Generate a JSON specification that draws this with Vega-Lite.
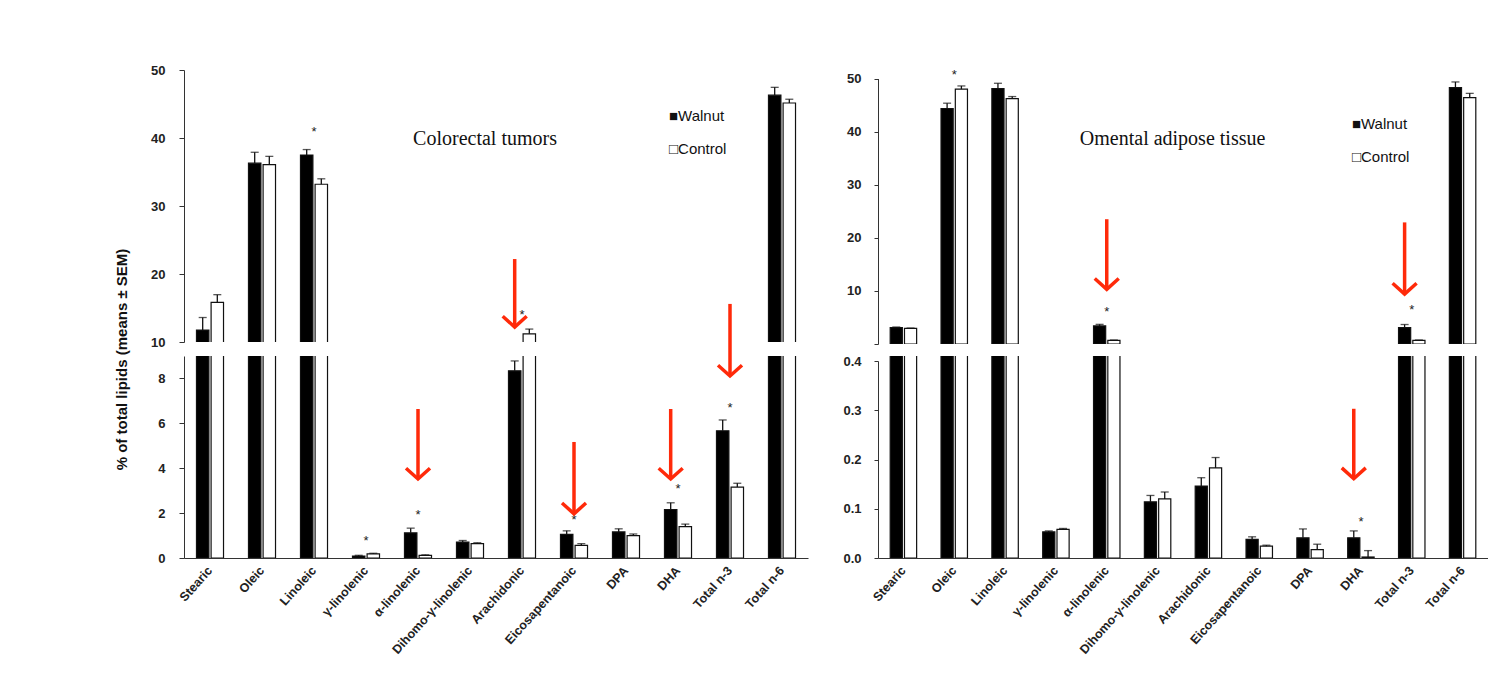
{
  "$schema": "https://vega.github.io/schema/vega-lite/v6.json",
  "background": "white",
  "padding": {"left": 113, "top": 64, "right": 0, "bottom": 0},
  "config": {
    "view": {"stroke": null},
    "font": "Liberation Sans",
    "axis": {"domainColor": "#333333", "tickColor": "#333333", "labelColor": "#222222", "labelFontWeight": "bold", "labelFont": "Liberation Sans", "grid": false}
  },
  "datasets": {
    "L": [
      {"cat": "Stearic", "grp": "Walnut", "value": 11.76, "hi": 13.6},
      {"cat": "Stearic", "grp": "Control", "value": 15.84, "hi": 16.96},
      {"cat": "Oleic", "grp": "Walnut", "value": 36.3, "hi": 37.9},
      {"cat": "Oleic", "grp": "Control", "value": 36.07, "hi": 37.3},
      {"cat": "Linoleic", "grp": "Walnut", "value": 37.5, "hi": 38.3},
      {"cat": "Linoleic", "grp": "Control", "value": 33.2, "hi": 34.0},
      {"cat": "γ-linolenic", "grp": "Walnut", "value": 0.09, "hi": 0.12},
      {"cat": "γ-linolenic", "grp": "Control", "value": 0.18, "hi": 0.21},
      {"cat": "α-linolenic", "grp": "Walnut", "value": 1.12, "hi": 1.33},
      {"cat": "α-linolenic", "grp": "Control", "value": 0.12, "hi": 0.14},
      {"cat": "Dihomo-γ-linolenic", "grp": "Walnut", "value": 0.71, "hi": 0.78},
      {"cat": "Dihomo-γ-linolenic", "grp": "Control", "value": 0.64, "hi": 0.68},
      {"cat": "Arachidonic", "grp": "Walnut", "value": 8.34, "hi": 8.78},
      {"cat": "Arachidonic", "grp": "Control", "value": 11.2, "hi": 11.9},
      {"cat": "Eicosapentanoic", "grp": "Walnut", "value": 1.05, "hi": 1.21},
      {"cat": "Eicosapentanoic", "grp": "Control", "value": 0.56, "hi": 0.64},
      {"cat": "DPA", "grp": "Walnut", "value": 1.16, "hi": 1.30},
      {"cat": "DPA", "grp": "Control", "value": 1.0, "hi": 1.07},
      {"cat": "DHA", "grp": "Walnut", "value": 2.16, "hi": 2.46},
      {"cat": "DHA", "grp": "Control", "value": 1.40, "hi": 1.51},
      {"cat": "Total n-3", "grp": "Walnut", "value": 5.67, "hi": 6.15},
      {"cat": "Total n-3", "grp": "Control", "value": 3.16, "hi": 3.33},
      {"cat": "Total n-6", "grp": "Walnut", "value": 46.3, "hi": 47.45},
      {"cat": "Total n-6", "grp": "Control", "value": 45.15, "hi": 45.7}
    ],
    "R": [
      {"cat": "Stearic", "grp": "Walnut", "value": 3.1, "hi": 3.2},
      {"cat": "Stearic", "grp": "Control", "value": 2.95, "hi": 3.0},
      {"cat": "Oleic", "grp": "Walnut", "value": 44.35, "hi": 45.35},
      {"cat": "Oleic", "grp": "Control", "value": 48.0, "hi": 48.6},
      {"cat": "Linoleic", "grp": "Walnut", "value": 48.1, "hi": 49.1},
      {"cat": "Linoleic", "grp": "Control", "value": 46.2, "hi": 46.6},
      {"cat": "γ-linolenic", "grp": "Walnut", "value": 0.053, "hi": 0.055},
      {"cat": "γ-linolenic", "grp": "Control", "value": 0.058, "hi": 0.06},
      {"cat": "α-linolenic", "grp": "Walnut", "value": 3.4, "hi": 3.7},
      {"cat": "α-linolenic", "grp": "Control", "value": 0.7, "hi": 0.75},
      {"cat": "Dihomo-γ-linolenic", "grp": "Walnut", "value": 0.114, "hi": 0.127},
      {"cat": "Dihomo-γ-linolenic", "grp": "Control", "value": 0.12, "hi": 0.134},
      {"cat": "Arachidonic", "grp": "Walnut", "value": 0.146, "hi": 0.163},
      {"cat": "Arachidonic", "grp": "Control", "value": 0.183, "hi": 0.204},
      {"cat": "Eicosapentanoic", "grp": "Walnut", "value": 0.038, "hi": 0.043},
      {"cat": "Eicosapentanoic", "grp": "Control", "value": 0.024, "hi": 0.026},
      {"cat": "DPA", "grp": "Walnut", "value": 0.041, "hi": 0.059},
      {"cat": "DPA", "grp": "Control", "value": 0.017, "hi": 0.028},
      {"cat": "DHA", "grp": "Walnut", "value": 0.041, "hi": 0.055},
      {"cat": "DHA", "grp": "Control", "value": 0.002, "hi": 0.015},
      {"cat": "Total n-3", "grp": "Walnut", "value": 3.1, "hi": 3.67},
      {"cat": "Total n-3", "grp": "Control", "value": 0.7, "hi": 0.75},
      {"cat": "Total n-6", "grp": "Walnut", "value": 48.3, "hi": 49.35},
      {"cat": "Total n-6", "grp": "Control", "value": 46.4, "hi": 47.2}
    ],
    "S": [
      {"p": "L", "s": "top", "cat": "Linoleic", "y": 41.3},
      {"p": "L", "s": "top", "cat": "Arachidonic", "y": 14.4},
      {"p": "L", "s": "bot", "cat": "γ-linolenic", "y": 0.89},
      {"p": "L", "s": "bot", "cat": "α-linolenic", "y": 2.07},
      {"p": "L", "s": "bot", "cat": "Eicosapentanoic", "y": 1.82},
      {"p": "L", "s": "bot", "cat": "DHA", "y": 3.2},
      {"p": "L", "s": "bot", "cat": "Total n-3", "y": 6.81},
      {"p": "R", "s": "top", "cat": "Oleic", "y": 51.2},
      {"p": "R", "s": "top", "cat": "α-linolenic", "y": 6.55},
      {"p": "R", "s": "top", "cat": "Total n-3", "y": 6.9},
      {"p": "R", "s": "bot", "cat": "DHA", "y": 0.08}
    ],
    "A": [
      {"p": "L", "s": "top", "cat": "Arachidonic", "at": "Walnut", "top": 22.2, "tip": 12.2},
      {"p": "L", "s": "top", "cat": "Total n-3", "at": "C", "top": 15.6, "tip": 5.0},
      {"p": "L", "s": "bot", "cat": "α-linolenic", "at": "C", "top": 6.64, "tip": 3.52},
      {"p": "L", "s": "bot", "cat": "Eicosapentanoic", "at": "C", "top": 5.17, "tip": 1.97},
      {"p": "L", "s": "bot", "cat": "DHA", "at": "Walnut", "top": 6.64, "tip": 3.52},
      {"p": "R", "s": "top", "cat": "α-linolenic", "at": "C", "top": 23.5, "tip": 10.3},
      {"p": "R", "s": "top", "cat": "Total n-3", "at": "Walnut", "top": 22.9, "tip": 9.4},
      {"p": "R", "s": "bot", "cat": "DHA", "at": "Walnut", "top": 0.303, "tip": 0.161}
    ],
    "T": [
      {"p": "L", "kind": "title", "cat": "Dihomo-γ-linolenic", "y": 39.85, "text": "Colorectal tumors"},
      {"p": "L", "kind": "legend", "cat": "DHA", "y": 43.2, "text": "■Walnut"},
      {"p": "L", "kind": "legend", "cat": "DHA", "y": 38.4, "text": "□Control"},
      {"p": "R", "kind": "title", "cat": "Dihomo-γ-linolenic", "y": 38.6, "text": "Omental adipose tissue"},
      {"p": "R", "kind": "legend", "cat": "DHA", "y": 41.4, "text": "■Walnut"},
      {"p": "R", "kind": "legend", "cat": "DHA", "y": 35.2, "text": "□Control"}
    ]
  },
  "resolve": {"scale": {"x": "independent", "y": "independent", "xOffset": "independent"}},
  "bounds": "flush",
  "columns": 2,
  "spacing": {"row": 12, "column": 70},
  "concat": [
    {
      "width": 624, "height": 272,
      "encoding": {"x": {"field": "cat", "type": "nominal", "title": null, "sort": ["Stearic","Oleic","Linoleic","γ-linolenic","α-linolenic","Dihomo-γ-linolenic","Arachidonic","Eicosapentanoic","DPA","DHA","Total n-3","Total n-6"], "scale": {"domain": ["Stearic","Oleic","Linoleic","γ-linolenic","α-linolenic","Dihomo-γ-linolenic","Arachidonic","Eicosapentanoic","DPA","DHA","Total n-3","Total n-6"], "paddingInner": 0.48, "paddingOuter": 0.24}, "axis": null}},
      "layer": [
        {"data": {"name": "L"}, "mark": {"type": "bar", "clip": true, "stroke": "#111111", "strokeWidth": 1.2},
         "encoding": {
           "xOffset": {"field": "grp", "type": "nominal", "sort": ["Walnut","Control"], "scale": {"domain": ["Walnut","Control"], "paddingInner": 0.15}},
           "y": {"field": "value", "type": "quantitative", "title": null, "scale": {"domain": [10, 50], "zero": false, "nice": false}, "axis": {"values": [10,20,30,40,50], "tickSize": 5, "labelPadding": 14, "labelFontSize": 13, "title": null}},
           "y2": {"datum": 0},
           "fill": {"field": "grp", "type": "nominal", "scale": {"domain": ["Walnut","Control"], "range": ["#000000","#ffffff"]}, "legend": null}}},
        {"data": {"name": "L"}, "mark": {"type": "rule", "clip": true, "color": "#111111", "strokeWidth": 1.3},
         "encoding": {"xOffset": {"field": "grp", "type": "nominal"}, "y": {"field": "value", "type": "quantitative", "title": null}, "y2": {"field": "hi"}}},
        {"data": {"name": "L"}, "mark": {"type": "tick", "clip": true, "color": "#111111", "orient": "horizontal", "size": 8, "thickness": 1.3},
         "encoding": {"xOffset": {"field": "grp", "type": "nominal"}, "y": {"field": "hi", "type": "quantitative", "title": null}}},
        {"data": {"name": "S"}, "transform": [{"filter": "datum.p=='L' && datum.s=='top'"}], "mark": {"type": "text", "text": "*", "fontSize": 13, "baseline": "alphabetic", "dy": 7, "color": "#222222"},
         "encoding": {"y": {"field": "y", "type": "quantitative", "title": null}}},
        {"data": {"name": "A"}, "transform": [{"filter": "datum.p=='L' && datum.s=='top' && datum.at=='Walnut'"}], "mark": {"type": "rule", "color": "#ff2a0a", "strokeWidth": 3.5},
         "encoding": {"xOffset": {"field": "at", "type": "nominal"}, "y": {"field": "top", "type": "quantitative", "title": null}, "y2": {"field": "tip"}}},
        {"data": {"name": "A"}, "transform": [{"filter": "datum.p=='L' && datum.s=='top' && datum.at=='Walnut'"}], "mark": {"type": "point", "shape": "M-1,-0.9L0,0L1,-0.9", "size": 576, "filled": false, "opacity": 1, "stroke": "#ff2a0a", "strokeWidth": 3.5},
         "encoding": {"xOffset": {"field": "at", "type": "nominal"}, "y": {"field": "tip", "type": "quantitative", "title": null}}},
        {"data": {"name": "A"}, "transform": [{"filter": "datum.p=='L' && datum.s=='top' && datum.at=='C'"}], "mark": {"type": "rule", "color": "#ff2a0a", "strokeWidth": 3.5},
         "encoding": {"y": {"field": "top", "type": "quantitative", "title": null}, "y2": {"field": "tip"}}},
        {"data": {"name": "A"}, "transform": [{"filter": "datum.p=='L' && datum.s=='top' && datum.at=='C'"}], "mark": {"type": "point", "shape": "M-1,-0.9L0,0L1,-0.9", "size": 576, "filled": false, "opacity": 1, "stroke": "#ff2a0a", "strokeWidth": 3.5},
         "encoding": {"y": {"field": "tip", "type": "quantitative", "title": null}}},
        {"data": {"name": "T"}, "transform": [{"filter": "datum.p=='L' && datum.kind=='title'"}], "mark": {"type": "text", "font": "Liberation Serif", "fontSize": 20, "align": "center", "baseline": "middle", "dx": 15, "color": "#111111"},
         "encoding": {"y": {"field": "y", "type": "quantitative", "title": null}, "text": {"field": "text"}}},
        {"data": {"name": "T"}, "transform": [{"filter": "datum.p=='L' && datum.kind=='legend'"}], "mark": {"type": "text", "font": "Liberation Sans", "fontSize": 15, "align": "left", "baseline": "middle", "dx": -9, "color": "#111111"},
         "encoding": {"y": {"field": "y", "type": "quantitative", "title": null}, "text": {"field": "text"}}}
      ]
    },
    {
      "width": 610, "height": 274,
      "encoding": {"x": {"field": "cat", "type": "nominal", "title": null, "sort": ["Stearic","Oleic","Linoleic","γ-linolenic","α-linolenic","Dihomo-γ-linolenic","Arachidonic","Eicosapentanoic","DPA","DHA","Total n-3","Total n-6"], "scale": {"domain": ["Stearic","Oleic","Linoleic","γ-linolenic","α-linolenic","Dihomo-γ-linolenic","Arachidonic","Eicosapentanoic","DPA","DHA","Total n-3","Total n-6"], "paddingInner": 0.48, "paddingOuter": 0.24}, "axis": null}},
      "layer": [
        {"data": {"name": "R"}, "transform": [{"filter": "datum.value > 0.4"}], "mark": {"type": "bar", "clip": true, "stroke": "#111111", "strokeWidth": 1.2},
         "encoding": {
           "xOffset": {"field": "grp", "type": "nominal", "sort": ["Walnut","Control"], "scale": {"domain": ["Walnut","Control"], "paddingInner": 0.15}},
           "y": {"field": "value", "type": "quantitative", "title": null, "scale": {"domain": [0, 50], "range": [274, 8.5], "nice": false}, "axis": {"values": [0,10,20,30,40,50], "labelExpr": "datum.value == 0 ? '' : datum.label", "tickSize": 4, "labelPadding": 13, "labelFontSize": 13, "title": null}},
           "y2": {"datum": 0},
           "fill": {"field": "grp", "type": "nominal", "scale": {"domain": ["Walnut","Control"], "range": ["#000000","#ffffff"]}, "legend": null}}},
        {"data": {"name": "R"}, "transform": [{"filter": "datum.value > 0.4"}], "mark": {"type": "rule", "clip": true, "color": "#111111", "strokeWidth": 1.3},
         "encoding": {"xOffset": {"field": "grp", "type": "nominal"}, "y": {"field": "value", "type": "quantitative", "title": null}, "y2": {"field": "hi"}}},
        {"data": {"name": "R"}, "transform": [{"filter": "datum.value > 0.4"}], "mark": {"type": "tick", "clip": true, "color": "#111111", "orient": "horizontal", "size": 8, "thickness": 1.3},
         "encoding": {"xOffset": {"field": "grp", "type": "nominal"}, "y": {"field": "hi", "type": "quantitative", "title": null}}},
        {"data": {"name": "S"}, "transform": [{"filter": "datum.p=='R' && datum.s=='top'"}], "mark": {"type": "text", "text": "*", "fontSize": 13, "baseline": "alphabetic", "dy": 7, "color": "#222222"},
         "encoding": {"y": {"field": "y", "type": "quantitative", "title": null}}},
        {"data": {"name": "A"}, "transform": [{"filter": "datum.p=='R' && datum.s=='top' && datum.at=='Walnut'"}], "mark": {"type": "rule", "color": "#ff2a0a", "strokeWidth": 3.5},
         "encoding": {"xOffset": {"field": "at", "type": "nominal"}, "y": {"field": "top", "type": "quantitative", "title": null}, "y2": {"field": "tip"}}},
        {"data": {"name": "A"}, "transform": [{"filter": "datum.p=='R' && datum.s=='top' && datum.at=='Walnut'"}], "mark": {"type": "point", "shape": "M-1,-0.9L0,0L1,-0.9", "size": 576, "filled": false, "opacity": 1, "stroke": "#ff2a0a", "strokeWidth": 3.5},
         "encoding": {"xOffset": {"field": "at", "type": "nominal"}, "y": {"field": "tip", "type": "quantitative", "title": null}}},
        {"data": {"name": "A"}, "transform": [{"filter": "datum.p=='R' && datum.s=='top' && datum.at=='C'"}], "mark": {"type": "rule", "color": "#ff2a0a", "strokeWidth": 3.5},
         "encoding": {"y": {"field": "top", "type": "quantitative", "title": null}, "y2": {"field": "tip"}}},
        {"data": {"name": "A"}, "transform": [{"filter": "datum.p=='R' && datum.s=='top' && datum.at=='C'"}], "mark": {"type": "point", "shape": "M-1,-0.9L0,0L1,-0.9", "size": 576, "filled": false, "opacity": 1, "stroke": "#ff2a0a", "strokeWidth": 3.5},
         "encoding": {"y": {"field": "tip", "type": "quantitative", "title": null}}},
        {"data": {"name": "T"}, "transform": [{"filter": "datum.p=='R' && datum.kind=='title'"}], "mark": {"type": "text", "font": "Liberation Serif", "fontSize": 20, "align": "center", "baseline": "middle", "dx": 15, "color": "#111111"},
         "encoding": {"y": {"field": "y", "type": "quantitative", "title": null}, "text": {"field": "text"}}},
        {"data": {"name": "T"}, "transform": [{"filter": "datum.p=='R' && datum.kind=='legend'"}], "mark": {"type": "text", "font": "Liberation Sans", "fontSize": 15, "align": "left", "baseline": "middle", "dx": -9, "color": "#111111"},
         "encoding": {"y": {"field": "y", "type": "quantitative", "title": null}, "text": {"field": "text"}}}
      ]
    },
    {
      "width": 624, "height": 202,
      "encoding": {"x": {"field": "cat", "type": "nominal", "title": null, "sort": ["Stearic","Oleic","Linoleic","γ-linolenic","α-linolenic","Dihomo-γ-linolenic","Arachidonic","Eicosapentanoic","DPA","DHA","Total n-3","Total n-6"], "scale": {"domain": ["Stearic","Oleic","Linoleic","γ-linolenic","α-linolenic","Dihomo-γ-linolenic","Arachidonic","Eicosapentanoic","DPA","DHA","Total n-3","Total n-6"], "paddingInner": 0.48, "paddingOuter": 0.24}, "axis": {"ticks": false, "labelAngle": -48, "labelAlign": "right", "labelBaseline": "middle", "labelPadding": 10, "labelFontSize": 12.5, "title": null}}},
      "layer": [
        {"data": {"name": "L"}, "mark": {"type": "bar", "clip": true, "stroke": "#111111", "strokeWidth": 1.2},
         "encoding": {
           "xOffset": {"field": "grp", "type": "nominal", "sort": ["Walnut","Control"], "scale": {"domain": ["Walnut","Control"], "paddingInner": 0.15}},
           "y": {"field": "value", "type": "quantitative", "title": "% of total lipids (means ± SEM)", "scale": {"domain": [0, 9], "nice": false}, "axis": {"values": [0,2,4,6,8], "tickSize": 5, "labelPadding": 14, "labelFontSize": 13, "title": "% of total lipids (means ± SEM)", "titleFontSize": 15, "titleFontWeight": "bold", "titleColor": "#111111", "titleAngle": 270, "titleBaseline": "bottom", "titleAlign": "center", "titleX": -55, "titleY": 3}},
           "y2": {"datum": 0},
           "fill": {"field": "grp", "type": "nominal", "scale": {"domain": ["Walnut","Control"], "range": ["#000000","#ffffff"]}, "legend": null}}},
        {"data": {"name": "L"}, "mark": {"type": "rule", "clip": true, "color": "#111111", "strokeWidth": 1.3},
         "encoding": {"xOffset": {"field": "grp", "type": "nominal"}, "y": {"field": "value", "type": "quantitative", "title": "% of total lipids (means ± SEM)"}, "y2": {"field": "hi", "title": "% of total lipids (means ± SEM)"}}},
        {"data": {"name": "L"}, "mark": {"type": "tick", "clip": true, "color": "#111111", "orient": "horizontal", "size": 8, "thickness": 1.3},
         "encoding": {"xOffset": {"field": "grp", "type": "nominal"}, "y": {"field": "hi", "type": "quantitative", "title": "% of total lipids (means ± SEM)"}}},
        {"data": {"name": "S"}, "transform": [{"filter": "datum.p=='L' && datum.s=='bot'"}], "mark": {"type": "text", "text": "*", "fontSize": 13, "baseline": "alphabetic", "dy": 7, "color": "#222222"},
         "encoding": {"y": {"field": "y", "type": "quantitative", "title": "% of total lipids (means ± SEM)"}}},
        {"data": {"name": "A"}, "transform": [{"filter": "datum.p=='L' && datum.s=='bot' && datum.at=='Walnut'"}], "mark": {"type": "rule", "color": "#ff2a0a", "strokeWidth": 3.5},
         "encoding": {"xOffset": {"field": "at", "type": "nominal"}, "y": {"field": "top", "type": "quantitative", "title": "% of total lipids (means ± SEM)"}, "y2": {"field": "tip", "title": "% of total lipids (means ± SEM)"}}},
        {"data": {"name": "A"}, "transform": [{"filter": "datum.p=='L' && datum.s=='bot' && datum.at=='Walnut'"}], "mark": {"type": "point", "shape": "M-1,-0.9L0,0L1,-0.9", "size": 576, "filled": false, "opacity": 1, "stroke": "#ff2a0a", "strokeWidth": 3.5},
         "encoding": {"xOffset": {"field": "at", "type": "nominal"}, "y": {"field": "tip", "type": "quantitative", "title": "% of total lipids (means ± SEM)"}}},
        {"data": {"name": "A"}, "transform": [{"filter": "datum.p=='L' && datum.s=='bot' && datum.at=='C'"}], "mark": {"type": "rule", "color": "#ff2a0a", "strokeWidth": 3.5},
         "encoding": {"y": {"field": "top", "type": "quantitative", "title": "% of total lipids (means ± SEM)"}, "y2": {"field": "tip", "title": "% of total lipids (means ± SEM)"}}},
        {"data": {"name": "A"}, "transform": [{"filter": "datum.p=='L' && datum.s=='bot' && datum.at=='C'"}], "mark": {"type": "point", "shape": "M-1,-0.9L0,0L1,-0.9", "size": 576, "filled": false, "opacity": 1, "stroke": "#ff2a0a", "strokeWidth": 3.5},
         "encoding": {"y": {"field": "tip", "type": "quantitative", "title": "% of total lipids (means ± SEM)"}}}
      ]
    },
    {
      "width": 610, "height": 202,
      "encoding": {"x": {"field": "cat", "type": "nominal", "title": null, "sort": ["Stearic","Oleic","Linoleic","γ-linolenic","α-linolenic","Dihomo-γ-linolenic","Arachidonic","Eicosapentanoic","DPA","DHA","Total n-3","Total n-6"], "scale": {"domain": ["Stearic","Oleic","Linoleic","γ-linolenic","α-linolenic","Dihomo-γ-linolenic","Arachidonic","Eicosapentanoic","DPA","DHA","Total n-3","Total n-6"], "paddingInner": 0.48, "paddingOuter": 0.24}, "axis": {"ticks": false, "labelAngle": -48, "labelAlign": "right", "labelBaseline": "middle", "labelPadding": 10, "labelFontSize": 12.5, "title": null}}},
      "layer": [
        {"data": {"name": "R"}, "mark": {"type": "bar", "clip": true, "stroke": "#111111", "strokeWidth": 1.2},
         "encoding": {
           "xOffset": {"field": "grp", "type": "nominal", "sort": ["Walnut","Control"], "scale": {"domain": ["Walnut","Control"], "paddingInner": 0.15}},
           "y": {"field": "value", "type": "quantitative", "title": null, "scale": {"domain": [0, 0.4], "range": [202, 5], "nice": false}, "axis": {"values": [0,0.1,0.2,0.3,0.4], "format": ".1f", "tickSize": 4, "labelPadding": 13, "labelFontSize": 13, "title": null}},
           "y2": {"datum": 0},
           "fill": {"field": "grp", "type": "nominal", "scale": {"domain": ["Walnut","Control"], "range": ["#000000","#ffffff"]}, "legend": null}}},
        {"data": {"name": "R"}, "mark": {"type": "rule", "clip": true, "color": "#111111", "strokeWidth": 1.3},
         "encoding": {"xOffset": {"field": "grp", "type": "nominal"}, "y": {"field": "value", "type": "quantitative", "title": null}, "y2": {"field": "hi"}}},
        {"data": {"name": "R"}, "mark": {"type": "tick", "clip": true, "color": "#111111", "orient": "horizontal", "size": 8, "thickness": 1.3},
         "encoding": {"xOffset": {"field": "grp", "type": "nominal"}, "y": {"field": "hi", "type": "quantitative", "title": null}}},
        {"data": {"name": "S"}, "transform": [{"filter": "datum.p=='R' && datum.s=='bot'"}], "mark": {"type": "text", "text": "*", "fontSize": 13, "baseline": "alphabetic", "dy": 7, "color": "#222222"},
         "encoding": {"y": {"field": "y", "type": "quantitative", "title": null}}},
        {"data": {"name": "A"}, "transform": [{"filter": "datum.p=='R' && datum.s=='bot' && datum.at=='Walnut'"}], "mark": {"type": "rule", "color": "#ff2a0a", "strokeWidth": 3.5},
         "encoding": {"xOffset": {"field": "at", "type": "nominal"}, "y": {"field": "top", "type": "quantitative", "title": null}, "y2": {"field": "tip"}}},
        {"data": {"name": "A"}, "transform": [{"filter": "datum.p=='R' && datum.s=='bot' && datum.at=='Walnut'"}], "mark": {"type": "point", "shape": "M-1,-0.9L0,0L1,-0.9", "size": 576, "filled": false, "opacity": 1, "stroke": "#ff2a0a", "strokeWidth": 3.5},
         "encoding": {"xOffset": {"field": "at", "type": "nominal"}, "y": {"field": "tip", "type": "quantitative", "title": null}}}
      ]
    }
  ]
}
